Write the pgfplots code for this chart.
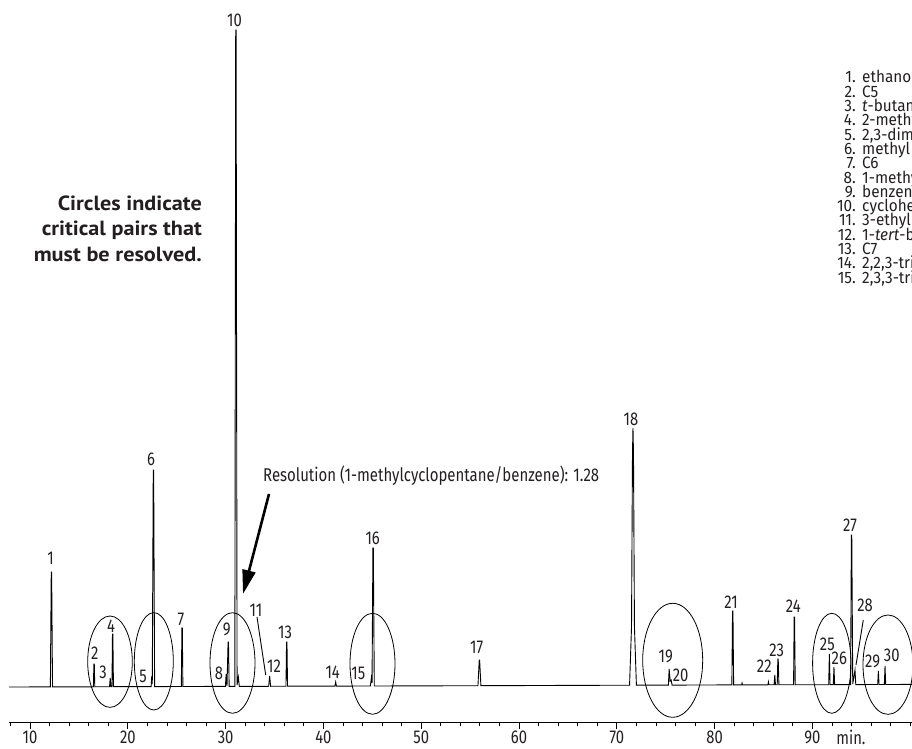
\documentclass[border=0pt]{standalone}
\usepackage{pgfplots}
\pgfplotsset{compat=1.18}
\usetikzlibrary{arrows.meta}
\usepackage{fontspec}
\setmainfont{Fira Sans}
\newfontfamily\notefont{PT Sans}
\definecolor{ink}{HTML}{231F20}
\newcommand{\lbl}{\fontsize{18.5bp}{14.3bp}\selectfont}
\newcommand{\keysize}{\fontsize{16.5bp}{14.3bp}\selectfont}
% condensed setting of the numeric labels
\newcommand{\nar}[1]{\scalebox{0.8}[1]{#1}}

\begin{document}
\begin{tikzpicture}
\useasboundingbox (-9bp,-27bp) rectangle (903bp,722bp);
\clip (-9bp,-27bp) rectangle (903bp,722bp);
\begin{axis}[
  at={(0,0)}, anchor=south west,
  scale only axis, width=903bp, height=722bp,
  xmin=7.85, xmax=100.18, ymin=-35, ymax=687,
  axis y line=none, axis x line=bottom,
  x axis line style={-, line width=0.9bp},
  xtick={10,20,...,90}, minor xtick={8,10,...,100},
  tick align=outside,
  major tick length=7bp, minor tick length=3.5bp,
  every tick/.style={black, line width=0.9bp},
  xticklabel={\nar{\pgfmathprintnumber{\tick}}},
  xticklabel style={font=\lbl, text=ink, inner sep=0pt, anchor=north, yshift=-2bp},
  /pgf/number format/assume math mode=true,
]
% detector signal (baseline drifts slightly upward over the run)
\addplot[black, line width=0.9bp] coordinates {
(7.8,0) (12.08,0.1) (12.17,115) (12.21,115) (12.3,0.1)
(16.48,0.2) (16.53,23) (16.57,23) (16.62,0.2)
(18.13,0.3) (18.2,9) (18.27,0.3) (18.38,0.3) (18.43,53) (18.47,53) (18.53,0.3)
(22.38,0.4) (22.45,11) (22.5,3) (22.6,217) (22.64,217) (22.74,0.4)
(25.47,0.5) (25.53,59) (25.57,59) (25.63,0.5)
(29.98,0.6) (30.05,13) (30.14,1) (30.25,45) (30.29,45) (30.36,0.6)
(30.94,0.6) (31.03,657) (31.07,657) (31.17,2) (31.3,10) (31.4,0.6)
(34.4,0.7) (34.5,11) (34.6,0.7)
(36.17,0.8) (36.23,45) (36.27,45) (36.33,0.8)
(41.17,0.9) (41.25,5) (41.33,0.9)
(44.8,1) (44.9,9) (44.97,4) (45.06,139) (45.1,139) (45.2,1)
(55.8,1.3) (55.93,27) (55.97,27) (56.1,1.3)
(71.3,1.8) (71.5,60) (71.6,235) (71.65,259) (71.7,235) (71.8,60) (72.0,1.8)
(75.27,1.9) (75.35,18) (75.45,6) (75.55,7) (75.65,1.9)
(81.76,2.1) (81.83,76) (81.87,76) (81.94,2.1)
(82.75,2.1) (82.8,4) (82.85,2.1)
(85.45,2.2) (85.5,5) (85.55,2.2)
(86.08,2.2) (86.15,12) (86.22,2.2) (86.4,2.2) (86.46,28) (86.5,28) (86.57,2.2)
(88.07,2.2) (88.13,70) (88.17,70) (88.24,2.2)
(91.66,2.3) (91.73,33) (91.8,2.3)
(92.13,2.3) (92.2,20) (92.27,2.3)
(93.9,2.4) (93.98,152) (94.02,152) (94.12,3) (94.35,17) (94.43,2.4)
(96.67,2.5) (96.74,16) (96.81,2.5)
(97.35,2.5) (97.42,21) (97.49,2.5)
(100.5,2.6)
};
\end{axis}

% annotations, positioned on the page grid
\begin{scope}[x=1bp, y=-1bp, shift={(-9bp,722bp)},
  every node/.style={font=\lbl, text=ink, inner sep=0pt}]
  % peak numbers
  \foreach \n/\px/\py in {1/50.5/558, 2/94.7/653, 3/103/672, 4/111/626.7,
      5/143/676.7, 6/151/459, 7/181/619, 8/219/673, 9/226.7/629, 10/234.5/20,
      11/256/610.7, 12/274/666.7, 13/285/632.7, 14/332.7/672.3, 15/358.3/673.3,
      16/372.7/538.3, 17/476.7/647.7, 18/631/419, 19/665.7/656.7, 20/680.7/675,
      21/731/602.3, 22/764.3/666.7, 23/776.7/650, 24/793.3/606.7, 25/827.3/644,
      26/839.3/658.3, 27/850/525.7, 28/865/605.7, 29/872.7/661.7, 30/891.7/655}
    \node at (\px,\py) {\nar{\n}};
  % leader lines
  \draw[black, line width=0.9bp] (257,617) -- (265.7,675);
  \draw[black, line width=0.9bp] (863.3,620) -- (856,665);
  % critical pairs
  \begin{scope}[black, line width=0.8bp]
    \draw (110,661.7) ellipse [x radius=22.3bp, y radius=45.7bp];
    \draw (153.8,661.3) ellipse [x radius=19.5bp, y radius=48.7bp];
    \draw (232.5,663) ellipse [x radius=22.5bp, y radius=50.3bp];
    \draw (372.5,663.8) ellipse [x radius=22.5bp, y radius=50.5bp];
    \draw (672.7,660.3) ellipse [x radius=30bp, y radius=57bp];
    \draw (831.8,663.3) ellipse [x radius=19.2bp, y radius=50bp];
    \draw (888,664.7) ellipse [x radius=25bp, y radius=49.7bp];
  \end{scope}
  % resolution callout
  \node[anchor=base west] at (263,482)
    {\resizebox{336bp}{\height}{Resolution (1-methylcyclopentane/benzene): 1.28}};
  \draw[line width=2.6bp, black, -{Triangle[length=24bp, width=13bp]}] (269,494) -- (243,594);
  % note
  \begin{scope}[every node/.style={anchor=base east, inner sep=0pt, text=ink,
      font=\notefont\bfseries\fontsize{20.5bp}{25.5bp}\selectfont}]
    \node at (202,211) {\resizebox{144bp}{\height}{Circles indicate}};
    \node at (202,236) {\resizebox{160bp}{\height}{critical pairs that}};
    \node at (202,262) {\resizebox{168bp}{\height}{must be resolved.}};
  \end{scope}
  % axis unit
  \node[anchor=base] at (851,745) {\nar{min.}};
  % compound key
  \foreach \k/\name in {1/ethanol, 2/C5, 3/{\textit{t}-butanol}, 4/2-methylpentane,
      5/{2,3-dimethylbutane}, 6/methyl \textit{tert}-butyl ether, 7/C6,
      8/1-methylcyclopentane, 9/benzene, 10/cyclohexane, 11/3-ethylpentane,
      12/{1-\textit{tert}-butyl-2-methoxybenzene}, 13/C7,
      14/{2,2,3-trimethylpentane}, 15/{2,3,3-trimethylpentane}} {
    \pgfmathsetmacro{\yb}{83+14.3*(\k-1)}
    \node[anchor=base east, font=\keysize] at (856,\yb) {\scalebox{0.93}[1]{\k.}};
    \node[anchor=base west, font=\keysize] at (862,\yb) {\scalebox{0.93}[1]{\name}};
  }
\end{scope}
\end{tikzpicture}
\end{document}
